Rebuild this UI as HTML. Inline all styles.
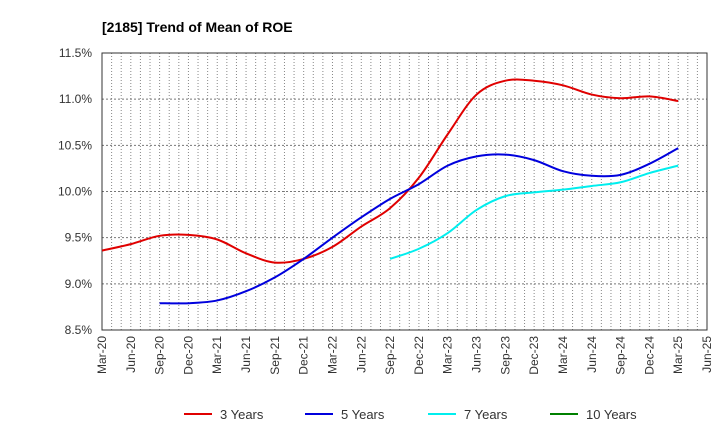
<!DOCTYPE html>
<html><head><meta charset="utf-8"><style>
body{margin:0;background:#fff;font-family:"Liberation Sans",Arial,sans-serif}
svg text{font-family:"Liberation Sans",Arial,sans-serif}
</style></head><body>
<svg id="c" width="720" height="440" xmlns="http://www.w3.org/2000/svg">
<text x="102" y="32" font-size="14" font-weight="bold" fill="#000">[2185]  Trend of Mean of ROE</text>
<g id="grid"></g><g id="axes"></g><g id="series"></g><g id="legend"></g>
</svg>
<script>
const xLabels=["Mar-20","Jun-20","Sep-20","Dec-20","Mar-21","Jun-21","Sep-21","Dec-21","Mar-22","Jun-22","Sep-22","Dec-22","Mar-23","Jun-23","Sep-23","Dec-23","Mar-24","Jun-24","Sep-24","Dec-24","Mar-25","Jun-25"];
const yTicks=[8.5,9.0,9.5,10.0,10.5,11.0,11.5];
const s3=[9.36,9.43,9.52,9.53,9.48,9.33,9.23,9.27,9.40,9.62,9.82,10.15,10.62,11.05,11.20,11.20,11.15,11.05,11.01,11.03,10.98];
const s3start=0;
const s5=[8.79,8.79,8.82,8.92,9.07,9.27,9.50,9.72,9.92,10.08,10.28,10.38,10.40,10.34,10.22,10.17,10.18,10.30,10.47];
const s5start=2;
const s7=[9.27,9.38,9.55,9.80,9.95,9.99,10.02,10.06,10.10,10.20,10.28];
const s7start=10;
const s10=[];
const NS="http://www.w3.org/2000/svg";
const L=102,R=707,T=53,B=330;
const X=i=>L+i*(R-L)/21, Y=v=>B-(v-8.5)/3*(B-T);
function mk(t,a,p){const e=document.createElementNS(NS,t);for(const k in a)e.setAttribute(k,a[k]);p.appendChild(e);return e;}
const grid=document.getElementById('grid'),axes=document.getElementById('axes'),ser=document.getElementById('series'),leg=document.getElementById('legend');
for(let m=1;m<63;m++){const x=L+m*(R-L)/63;const g=mk('line',{x1:x,x2:x,y1:T,y2:B,stroke:'#888','stroke-width':1,'stroke-dasharray':'1,2'},grid);
}
yTicks.forEach(v=>{const y=Y(v);
if(v>8.5&&v<11.5){const g=mk('line',{x1:L,x2:R,y1:y,y2:y,stroke:'#777','stroke-width':1,'stroke-dasharray':'2,2'},grid);}
const t=mk('text',{x:L-10,y:y+4,'text-anchor':'end','font-size':12,fill:'#333'},axes);t.textContent=v.toFixed(1)+'%';
});
const fr=mk('rect',{x:L,y:T,width:R-L,height:B-T,fill:'none',stroke:'#333','stroke-width':1},axes);

xLabels.forEach((s,i)=>{const x=X(i);const t=mk('text',{x:x+4,y:B+6,'text-anchor':'end','font-size':12,fill:'#333',transform:`rotate(-90 ${x+4} ${B+6})`},axes);t.textContent=s;
});
function path(vals,start){const p=vals.map((v,i)=>[X(start+i),Y(v)]);if(p.length<2)return '';let d=`M${p[0][0]},${p[0][1]}`;
for(let i=0;i<p.length-1;i++){const p0=p[i-1]||p[i],p1=p[i],p2=p[i+1],p3=p[i+2]||p2;
d+=` C${p1[0]+(p2[0]-p0[0])/6},${p1[1]+(p2[1]-p0[1])/6} ${p2[0]-(p3[0]-p1[0])/6},${p2[1]-(p3[1]-p1[1])/6} ${p2[0]},${p2[1]}`;}return d;}
[[s3,s3start,'#e00000','line-3-years'],[s5,s5start,'#0000dd','line-5-years'],[s7,s7start,'#00eeee','line-7-years'],[s10,0,'#008000','line-10-years']].forEach(([v,s,c,n])=>{
const e=mk('path',{d:path(v,s),fill:'none',stroke:c,'stroke-width':2},ser);});
[['3 Years','#e00000',184],['5 Years','#0000dd',305],['7 Years','#00eeee',428],['10 Years','#008000',550]].forEach(([s,c,x])=>{
const g=mk('g',{},leg);
mk('line',{x1:x,x2:x+28,y1:414,y2:414,stroke:c,'stroke-width':2},g);
const t=mk('text',{x:x+36,y:419,'font-size':13,fill:'#333'},g);t.textContent=s;});
</script>
</body></html>
